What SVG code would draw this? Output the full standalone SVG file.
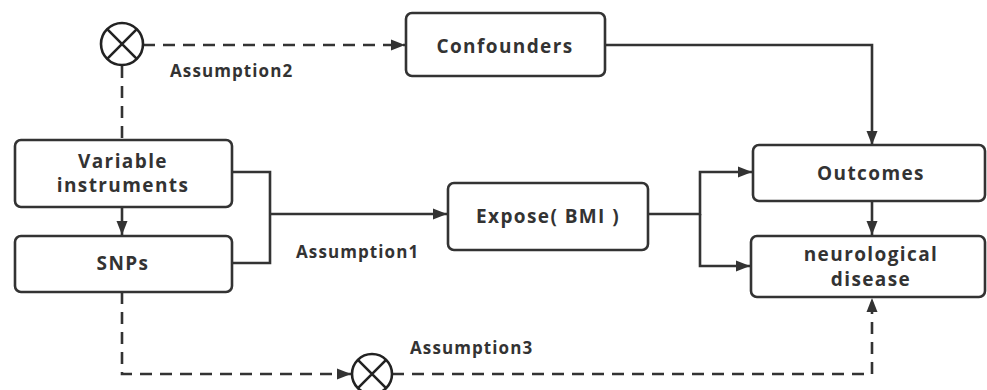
<svg xmlns="http://www.w3.org/2000/svg" width="987" height="390" viewBox="0 0 987 390">
  <defs>
    <marker id="arrowL" viewBox="0 0 14 12" refX="14" refY="6" markerWidth="14" markerHeight="12" markerUnits="userSpaceOnUse" orient="auto">
      <path d="M0,0.5 L14,6 L0,11.5 Z" fill="#333"/>
    </marker>
  </defs>
  <style>
    .box { fill: #fff; stroke: #333; stroke-width: 2.6; }
    .lbl { font-family: "Open Sans", "Noto Sans", sans-serif; font-weight: bold; font-size: 19px; letter-spacing: 1.4px; fill: #333; text-anchor: middle; }
    .note { font-family: "Open Sans", "Noto Sans", sans-serif; font-weight: bold; font-size: 17px; letter-spacing: 1.1px; fill: #333; }
    .line { fill: none; stroke: #333; stroke-width: 2.6; }
    .dash { fill: none; stroke: #333; stroke-width: 2.6; stroke-dasharray: 12 8; }
    .cross { fill: #fff; stroke: #222; stroke-width: 2.6; }
  </style>

  <rect width="987" height="390" fill="#fff"/>

  <!-- connectors -->
  <g id="connectors">
    <!-- Assumption2: independence from confounders -->
    <path class="dash" d="M143,45 H405" marker-end="url(#arrowL)"/>
    <path class="dash" d="M122,66 V140"/>
    <!-- confounders to outcomes -->
    <path class="line" d="M605,45 H872 V145" marker-end="url(#arrowL)"/>
    <!-- instruments to SNPs -->
    <path class="line" d="M122,207 V235" marker-end="url(#arrowL)"/>
    <!-- Assumption1: instruments to exposure -->
    <path class="line" d="M232,172 H270 V263 H232"/>
    <path class="line" d="M270,214 H447" marker-end="url(#arrowL)"/>
    <!-- exposure to outcomes -->
    <path class="line" d="M648,214 H700 V172 H752" marker-end="url(#arrowL)"/>
    <path class="line" d="M700,214 V266 H750" marker-end="url(#arrowL)"/>
    <path class="line" d="M872,201 V235" marker-end="url(#arrowL)"/>
    <!-- Assumption3: exclusion restriction -->
    <path class="dash" d="M122,292 V374 H351" marker-end="url(#arrowL)"/>
    <path class="dash" d="M392,374 H872 V298" marker-end="url(#arrowL)"/>
  </g>

  <!-- blocked-path symbols -->
  <g id="block-top">
    <circle class="cross" cx="122" cy="44" r="21"/>
    <path class="line" d="M107.2,29.2 L136.8,58.8 M136.8,29.2 L107.2,58.8" style="stroke:#222"/>
  </g>
  <g id="block-bottom">
    <circle class="cross" cx="372" cy="374" r="20"/>
    <path class="line" d="M357.9,359.9 L386.1,388.1 M386.1,359.9 L357.9,388.1" style="stroke:#222"/>
  </g>

  <g id="confounders">
    <rect class="box" x="406" y="13" width="199" height="63" rx="6"/>
    <text class="lbl" x="505" y="53">Confounders</text>
  </g>

  <g id="variable-instruments">
    <rect class="box" x="15" y="140" width="217" height="67" rx="6"/>
    <text class="lbl" x="123" y="168">Variable</text>
    <text class="lbl" x="123" y="192">instruments</text>
  </g>

  <g id="snps">
    <rect class="box" x="15" y="236" width="217" height="56" rx="6"/>
    <text class="lbl" x="123" y="270">SNPs</text>
  </g>

  <g id="expose">
    <rect class="box" x="448" y="183" width="200" height="67" rx="6"/>
    <text class="lbl" x="548" y="223">Expose( BMI )</text>
  </g>

  <g id="outcomes">
    <rect class="box" x="753" y="145" width="232" height="56" rx="6"/>
    <text class="lbl" x="871" y="180">Outcomes</text>
  </g>

  <g id="neurological-disease">
    <rect class="box" x="751" y="236" width="234" height="61" rx="6"/>
    <text class="lbl" x="871" y="261">neurological</text>
    <text class="lbl" x="871" y="286">disease</text>
  </g>

  <g id="labels">
    <text class="note" x="170" y="77">Assumption2</text>
    <text class="note" x="296" y="258">Assumption1</text>
    <text class="note" x="410" y="354">Assumption3</text>
  </g>
</svg>
